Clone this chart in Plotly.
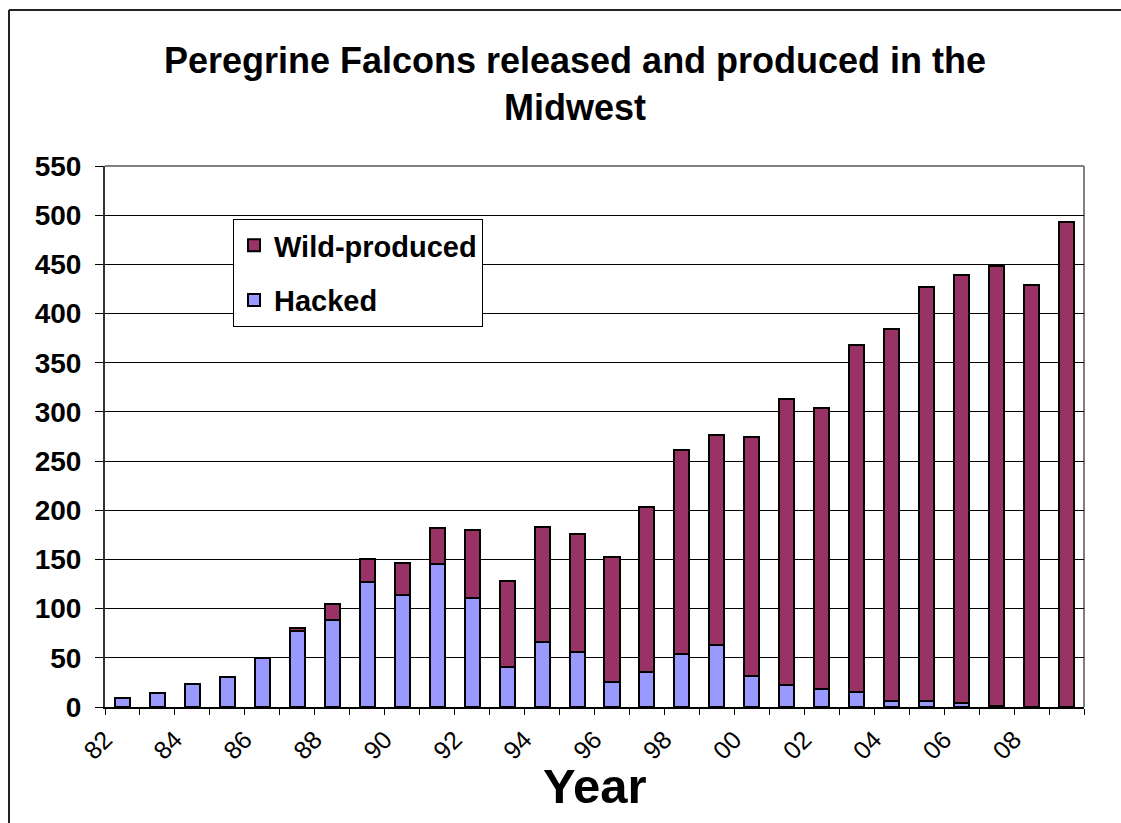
import plotly.graph_objects as go

# ---- data ----
years = ["82", "83", "84", "85", "86", "87", "88", "89", "90", "91", "92", "93", "94", "95",
         "96", "97", "98", "99", "00", "01", "02", "03", "04", "05", "06", "07", "08", "09"]
hacked = [9, 14, 23, 30, 50, 77, 88, 127, 114, 145, 111, 41, 66, 56,
          25, 36, 54, 63, 32, 22, 18, 15, 6, 6, 4, 1, 0, 0]
wild = [0, 0, 0, 0, 0, 3, 17, 23, 32, 37, 69, 87, 117, 120,
        128, 167, 207, 214, 242, 291, 286, 353, 378, 421, 435, 447, 429, 493]
y_ticks = [0, 50, 100, 150, 200, 250, 300, 350, 400, 450, 500, 550]

title_text = "Peregrine Falcons released and produced in the<br>Midwest"
FONT = "Arial, Liberation Sans, sans-serif"

year_num = [1900 + int(y) if int(y) > 50 else 2000 + int(y) for y in years]
tick_pos = [v - 0.5 for v in year_num[::2]]
tick_txt = years[::2]

fig = go.Figure()
fig.add_trace(go.Bar(
    x=year_num, y=hacked, name="Hacked", legendgroup="h", legendrank=2,
    marker=dict(color="#9999FF", line=dict(color="black", width=2)),
    width=0.43,
))
fig.add_trace(go.Bar(
    x=year_num, y=wild, name="Wild-produced", legendgroup="w", legendrank=1,
    marker=dict(color="#993366", line=dict(color="black", width=2)),
    width=0.43,
))

L, R, T, B = 105, 37, 166, 116
W, H = 1121, 823
pw, ph = W - L - R, H - T - B

def px_x(px):
    return (px - L) / pw

def px_y(py):
    return (H - B - py) / ph

fig.update_layout(
    width=W, height=H,
    margin=dict(l=L, r=R, t=T, b=B, autoexpand=False),
    barmode="stack",
    paper_bgcolor="white", plot_bgcolor="white",
    font=dict(family=FONT, color="black"),
    title=dict(text=title_text, x=575 / W, xanchor="center", xref="container",
               y=1 - 73 / H, yanchor="middle", yref="container",
               font=dict(size=36, weight="bold", family=FONT, color="black")),
    showlegend=True,
    legend=dict(
        x=px_x(233), y=px_y(219), xanchor="left", yanchor="top",
        bgcolor="white", bordercolor="black", borderwidth=1,
        font=dict(size=29, weight="bold", family=FONT, color="black"),
        traceorder="grouped", tracegroupgap=14,
        itemwidth=30,
    ),
    xaxis=dict(
        range=[year_num[0] - 0.5, year_num[-1] + 0.5],
        tickmode="array", tickvals=tick_pos, ticktext=tick_txt,
        tickangle=-45, tickfont=dict(size=25, family=FONT, color="black"),
        ticks="outside", ticklen=6, tickcolor="black", tickwidth=1,
        minor=dict(ticks="outside", tick0=year_num[0] - 0.5, dtick=1, ticklen=6,
                   tickcolor="black", tickwidth=1, showgrid=False),
        showgrid=False, zeroline=False,
        showline=True, linecolor="black", linewidth=2,
    ),
    yaxis=dict(
        range=[0, 550], tickmode="array", tickvals=y_ticks,
        tickfont=dict(size=28, weight="bold", family=FONT, color="black"),
        ticks="outside", ticklen=8, tickcolor="black", tickwidth=1,
        ticklabelstandoff=8,
        showgrid=True, gridcolor="black", gridwidth=1,
        zeroline=False,
        showline=True, linecolor="#333333", linewidth=2,
    ),
    annotations=[dict(
        text="Year", x=0.5, y=px_y(786), xref="paper", yref="paper",
        xanchor="center", yanchor="middle", showarrow=False,
        font=dict(size=49, weight="bold", family=FONT, color="black"),
    )],
    shapes=[
        dict(type="line", xref="paper", yref="paper", x0=0, x1=1, y0=1, y1=1,
             line=dict(color="#808080", width=2), layer="below"),
        dict(type="line", xref="paper", yref="paper", x0=1, x1=1, y0=0, y1=1,
             line=dict(color="#808080", width=2), layer="below"),
        dict(type="line", xref="paper", yref="paper", x0=px_x(9), x1=px_x(1125),
             y0=px_y(10), y1=px_y(10), line=dict(color="#222222", width=2)),
        dict(type="line", xref="paper", yref="paper", x0=px_x(9), x1=px_x(9),
             y0=px_y(10), y1=px_y(830), line=dict(color="#222222", width=2)),
    ],
)

fig.write_html("out.html", config={"displayModeBar": False},
               post_script="document.body.style.margin='0';document.body.style.overflow='hidden';")
